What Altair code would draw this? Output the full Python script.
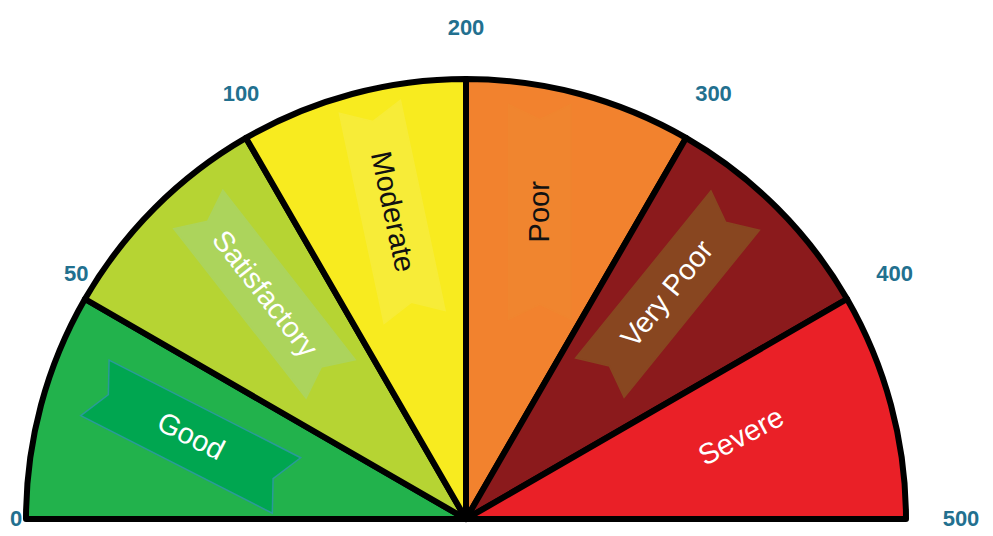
import math
import altair as alt
import pandas as pd

# ---- data ----
categories = ["Good", "Satisfactory", "Moderate", "Poor", "Very Poor", "Severe"]
lower_bounds = [0, 50, 100, 200, 300, 400]
upper_bounds = [50, 100, 200, 300, 400, 500]
tick_labels = [0, 50, 100, 200, 300, 400, 500]

# ---- styles ----
segment_colors = ["#22b24c", "#b6d433", "#f8eb1f", "#f2822e", "#8b1a1c", "#ea2027"]
text_colors = ["#ffffff", "#ffffff", "#111111", "#111111", "#ffffff", "#ffffff"]
ribbon_colors = ["#00a650", "#acd45c", "#f7ec38", "#f0852f", "#884620", "#ea2027"]
ribbon_strokes = ["#2a9a9a", "#acd45c", "#f7ec38", "#f0852f", "#884620", "#ea2027"]
label_angles = [27, 52, 78, 270, 309, 332]

CX, CY = 458, 511        # gauge centre (view coordinates)
R = 440                  # gauge radius
LRX, LRY = 285, 318      # radii of the category labels
TRXL, TRXR, TRY = 450, 495, 491   # radii for tick labels

segs = pd.DataFrame({
    "category": categories,
    "lo": lower_bounds,
    "hi": upper_bounds,
    "idx": list(range(len(categories))),
    "idx_end": [i + 1 for i in range(len(categories))],
    "rot": label_angles,
})
ticks = pd.DataFrame({"value": [str(v) for v in tick_labels], "pos": list(range(len(tick_labels)))})

seg_scale = alt.Scale(domain=categories, range=segment_colors)

arcs = alt.Chart(segs).mark_arc(
    radius=R, stroke="black", strokeWidth=6, strokeJoin="round"
).encode(
    theta=alt.Theta("idx:Q", stack=False,
                    scale=alt.Scale(domain=[0, len(categories)], range=[-math.pi / 2, math.pi / 2])),
    theta2="idx_end:Q",
    color=alt.Color("category:N", scale=seg_scale, legend=None),
    x=alt.value(CX),
    y=alt.value(CY),
)

label_base = alt.Chart(segs).transform_calculate(
    ang=f"(datum.idx + 0.5) * PI / {len(categories)} - PI / 2",
).transform_calculate(
    lx=f"{CX} + {LRX} * sin(datum.ang)",
    ly=f"{CY} - {LRY} * cos(datum.ang)",
)

ribbon_path = "M-1,-0.29L1,-0.29L0.86,0L1,0.29L-1,0.29L-0.86,0Z"
ribbons = label_base.transform_filter(
    alt.datum.category != "Severe"
).mark_point(
    shape=ribbon_path, filled=True, opacity=1, size=215 * 215, strokeWidth=1.5
).encode(
    x=alt.X("lx:Q", scale=None, axis=None),
    y=alt.Y("ly:Q", scale=None, axis=None),
    angle=alt.Angle("rot:Q", scale=None),
    fill=alt.Fill("category:N", scale=alt.Scale(domain=categories, range=ribbon_colors), legend=None),
    stroke=alt.Stroke("category:N", scale=alt.Scale(domain=categories, range=ribbon_strokes), legend=None),
)

labels = label_base.mark_text(
    font="Liberation Sans", fontSize=29, align="center", baseline="middle"
).encode(
    x=alt.X("lx:Q", scale=None, axis=None),
    y=alt.Y("ly:Q", scale=None, axis=None),
    text="category:N",
    angle=alt.Angle("rot:Q", scale=None),
    color=alt.Color("category:N", scale=alt.Scale(domain=categories, range=text_colors), legend=None),
)

tick_text = alt.Chart(ticks).transform_calculate(
    ang=f"datum.pos * PI / {len(tick_labels) - 1} - PI / 2",
).transform_calculate(
    tx=f"{CX} + (sin(datum.ang) < 0 ? {TRXL} : {TRXR}) * sin(datum.ang)",
    ty=f"{CY} - {TRY} * cos(datum.ang)",
).mark_text(
    font="Liberation Sans", fontSize=22, fontWeight="bold", color="#22708f",
    align="center", baseline="middle",
).encode(
    x=alt.X("tx:Q", scale=None, axis=None),
    y=alt.Y("ty:Q", scale=None, axis=None),
    text="value:N",
)

chart = alt.layer(arcs, ribbons, labels, tick_text).resolve_scale(
    color="independent", fill="independent", stroke="independent"
).properties(
    width=977, height=528, autosize=alt.AutoSizeParams(type="none"), padding=0,
    background="white",
).configure_view(stroke=None)

chart.save("out.html", embed_options={"renderer": "svg", "actions": False})
